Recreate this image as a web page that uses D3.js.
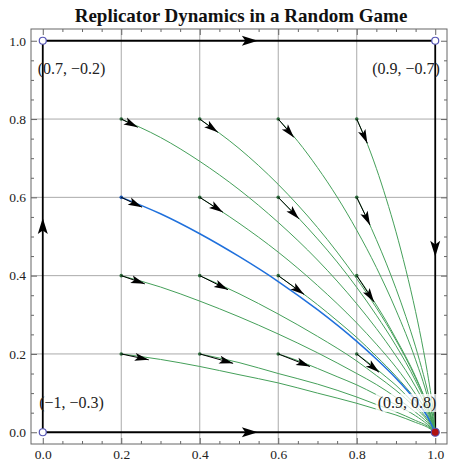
<!DOCTYPE html>
<html>
<head>
<meta charset="utf-8">
<script src="https://d3js.org/d3.v7.min.js"></script>
<style>
  body { margin: 0; background: #fff; }
  svg { display: block; }
  text { font-family: "Liberation Serif", "DejaVu Serif", serif; fill: #222; }
</style>
</head>
<body>
<svg width="454" height="466"></svg>
<script>
  const title = "Replicator Dynamics in a Random Game";
  const majorTicks = [0, 0.2, 0.4, 0.6, 0.8, 1];
  const gridValues = [0.2, 0.4, 0.6, 0.8];

  // corners of the square and the payoff pair shown next to each
  const corners = [[0, 0], [0, 1], [1, 1], [1, 0]];
  const cornerLabels = ["(\u22121, \u22120.3)", "(0.7, \u22120.2)", "(0.9, \u22120.7)", "(0.9, 0.8)"];
  const stableCorner = [1, 0];

  // boundary trajectories and where their arrows point
  const edges = [[[0, 0], [1, 0]], [[0, 1], [1, 1]], [[0, 0], [0, 1]], [[1, 1], [1, 0]]];
  const edgeArrowTips = [[0.548, 0], [0.548, 1], [0, 0.547], [1, 0.448]];

  // interior trajectories
  const greenCurves = [
    [[0.2,0.8],[0.3,0.753],[0.4,0.692],[0.5,0.620],[0.6,0.536],[0.7,0.440],[0.8,0.328],[0.85,0.265],[0.9,0.195],[0.95,0.116],[0.98,0.056],[1,0]],
    [[0.4,0.8],[0.5,0.725],[0.6,0.633],[0.7,0.523],[0.8,0.392],[0.85,0.318],[0.9,0.235],[0.95,0.139],[0.98,0.068],[1,0]],
    [[0.6,0.8],[0.65,0.743],[0.7,0.676],[0.75,0.601],[0.8,0.516],[0.85,0.421],[0.9,0.312],[0.95,0.185],[0.98,0.092],[0.99,0.053],[1,0]],
    [[0.8,0.8],[0.82,0.754],[0.85,0.674],[0.875,0.597],[0.9,0.512],[0.925,0.416],[0.95,0.308],[0.97,0.209],[0.98,0.153],[0.99,0.090],[0.995,0.052],[1,0]],
    [[0.4,0.6],[0.5,0.534],[0.6,0.460],[0.7,0.375],[0.8,0.279],[0.85,0.225],[0.9,0.166],[0.95,0.097],[0.98,0.048],[1,0]],
    [[0.6,0.6],[0.65,0.549],[0.7,0.494],[0.75,0.435],[0.8,0.370],[0.85,0.299],[0.9,0.221],[0.95,0.131],[0.98,0.064],[1,0]],
    [[0.8,0.6],[0.825,0.548],[0.85,0.492],[0.875,0.432],[0.9,0.367],[0.925,0.296],[0.95,0.218],[0.97,0.147],[0.98,0.108],[0.99,0.063],[1,0]],
    [[0.2,0.4],[0.3,0.371],[0.4,0.335],[0.5,0.295],[0.6,0.251],[0.7,0.203],[0.8,0.150],[0.85,0.122],[0.9,0.089],[0.95,0.051],[0.98,0.025],[1,0]],
    [[0.4,0.4],[0.5,0.354],[0.6,0.302],[0.7,0.245],[0.8,0.182],[0.85,0.145],[0.9,0.107],[0.95,0.062],[0.98,0.030],[1,0]],
    [[0.6,0.4],[0.65,0.364],[0.7,0.326],[0.75,0.285],[0.8,0.242],[0.85,0.194],[0.9,0.143],[0.95,0.084],[0.98,0.042],[1,0]],
    [[0.8,0.4],[0.825,0.364],[0.85,0.325],[0.875,0.284],[0.9,0.239],[0.925,0.193],[0.95,0.142],[0.97,0.095],[0.98,0.069],[0.99,0.041],[1,0]],
    [[0.2,0.2],[0.3,0.186],[0.4,0.168],[0.5,0.147],[0.6,0.126],[0.7,0.100],[0.8,0.074],[0.85,0.059],[0.9,0.044],[0.95,0.025],[0.98,0.013],[1,0]],
    [[0.4,0.2],[0.5,0.178],[0.6,0.150],[0.7,0.123],[0.8,0.090],[0.85,0.071],[0.9,0.052],[0.95,0.030],[0.98,0.016],[1,0]],
    [[0.6,0.2],[0.65,0.183],[0.7,0.163],[0.75,0.142],[0.8,0.121],[0.85,0.096],[0.9,0.070],[0.95,0.042],[0.98,0.020],[1,0]],
    [[0.8,0.2],[0.85,0.162],[0.875,0.141],[0.9,0.120],[0.925,0.095],[0.95,0.069],[0.98,0.034],[0.99,0.020],[1,0]]
  ];
  const blueCurve = [[0.2,0.6],[0.3,0.558],[0.4,0.507],[0.5,0.449],[0.6,0.385],[0.7,0.313],[0.8,0.232],[0.85,0.187],[0.9,0.138],[0.95,0.081],[0.98,0.040],[1,0]];

  // start points and arrow tips of the short direction arrows
  const arrowStarts = [
    [0.2,0.8],[0.4,0.8],[0.6,0.8],[0.8,0.8],
    [0.2,0.6],[0.4,0.6],[0.6,0.6],[0.8,0.6],
    [0.2,0.4],[0.4,0.4],[0.6,0.4],[0.8,0.4],
    [0.2,0.2],[0.4,0.2],[0.6,0.2],[0.8,0.2]
  ];
  const arrowTips = [
    [0.242,0.779],[0.446,0.766],[0.640,0.753],[0.827,0.738],
    [0.253,0.575],[0.459,0.562],[0.653,0.545],[0.834,0.529],
    [0.260,0.379],[0.472,0.364],[0.666,0.352],[0.844,0.333],
    [0.270,0.185],[0.485,0.176],[0.681,0.168],[0.857,0.153]
  ];

  const svg = d3.select("svg");
  const x = d3.scaleLinear().domain([-0.03, 1.03]).range([31, 447]);
  const y = d3.scaleLinear().domain([-0.03, 1.03]).range([444, 29]);
  const minorTicks = d3.range(0, 21).map(i => i / 20).filter(v => majorTicks.indexOf(v) < 0);

  svg.append("text")
    .attr("x", 241).attr("y", 22)
    .attr("text-anchor", "middle")
    .style("font-weight", "bold")
    .style("font-size", "19px")
    .style("fill", "#111")
    .text(title);

  // grid
  const grid = svg.append("g").attr("stroke", "#aaa").attr("stroke-width", 1);
  grid.selectAll("line.v").data(gridValues).join("line").attr("class", "v")
    .attr("x1", d => x(d)).attr("x2", d => x(d)).attr("y1", y(-0.03)).attr("y2", y(1.03));
  grid.selectAll("line.h").data(gridValues).join("line").attr("class", "h")
    .attr("y1", d => y(d)).attr("y2", d => y(d)).attr("x1", x(-0.03)).attr("x2", x(1.03));

  // frame axes, ticks pointing inwards
  function frameAxis(axis, transform, labels) {
    const g = svg.append("g").attr("transform", transform);
    g.call(axis.tickValues(minorTicks).tickSize(-3).tickFormat(""));
    g.select(".domain").remove();
    const g2 = svg.append("g").attr("transform", transform);
    g2.call(axis.tickValues(majorTicks).tickSize(-6).tickPadding(5)
      .tickFormat(labels ? d3.format(".1f") : ""));
    g2.select(".domain").remove();
    [g, g2].forEach(s => s.selectAll("line").attr("stroke", "#666"));
    g2.selectAll("text").style("font-size", "13.5px").style("font-family", "Liberation Serif").attr("fill", "#222");
  }
  frameAxis(d3.axisBottom(x), "translate(0,444)", true);
  frameAxis(d3.axisLeft(y), "translate(31,0)", true);
  frameAxis(d3.axisTop(x), "translate(0,29)", false);
  frameAxis(d3.axisRight(y), "translate(447,0)", false);

  svg.append("rect")
    .attr("x", x(-0.03)).attr("y", y(1.03))
    .attr("width", x(1.03) - x(-0.03)).attr("height", y(-0.03) - y(1.03))
    .attr("fill", "none").attr("stroke", "#666").attr("stroke-width", 1);

  function arrowHead(g, from, to, len, half) {
    const ang = Math.atan2(y(to[1]) - y(from[1]), x(to[0]) - x(from[0])) * 180 / Math.PI;
    g.append("path")
      .attr("d", "M0,0L" + (-len) + "," + (-half) + "L" + (-len * 0.78) + ",0L" + (-len) + "," + half + "Z")
      .attr("transform", "translate(" + x(to[0]) + "," + y(to[1]) + ") rotate(" + ang + ")")
      .attr("fill", "#000");
  }

  // boundary trajectories
  const edgeG = svg.append("g");
  edgeG.selectAll("line").data(edges).join("line")
    .attr("x1", d => x(d[0][0])).attr("y1", d => y(d[0][1]))
    .attr("x2", d => x(d[1][0])).attr("y2", d => y(d[1][1]))
    .attr("stroke", "#000").attr("stroke-width", 1.8);
  edges.forEach((e, i) => arrowHead(edgeG, e[0], edgeArrowTips[i], 16, 5));

  // interior trajectories
  const line = d3.line().x(d => x(d[0])).y(d => y(d[1])).curve(d3.curveMonotoneX);
  svg.append("g").selectAll("path").data(greenCurves).join("path")
    .attr("d", line).attr("fill", "none").attr("stroke", "#45a05a").attr("stroke-width", 1);
  svg.append("path").datum(blueCurve)
    .attr("d", line).attr("fill", "none").attr("stroke", "#1f70dc").attr("stroke-width", 1.5);

  // start dots
  svg.append("g").selectAll("circle").data(arrowStarts).join("circle")
    .attr("cx", d => x(d[0])).attr("cy", d => y(d[1])).attr("r", 1.8)
    .attr("fill", (d, i) => i === 4 ? "#1a55b0" : "#2d6b3c");

  // direction arrows
  const arrG = svg.append("g");
  arrowStarts.forEach((s, i) => {
    const t = arrowTips[i];
    arrG.append("line")
      .attr("x1", x(s[0])).attr("y1", y(s[1])).attr("x2", x(t[0])).attr("y2", y(t[1]))
      .attr("stroke", "#000").attr("stroke-width", 1);
    arrowHead(arrG, s, t, 14, 4);
  });

  // corner points
  svg.append("g").selectAll("circle").data(corners).join("circle")
    .attr("cx", d => x(d[0])).attr("cy", d => y(d[1]))
    .attr("r", d => d === corners[3] ? 4 : 3.5)
    .attr("fill", d => (d[0] === stableCorner[0] && d[1] === stableCorner[1]) ? "#b01010" : "#fff")
    .attr("stroke", "#5555b5").attr("stroke-width", 1.2);

  // corner payoff labels
  const labelPos = [[71.5, 408], [71.5, 74], [406, 74], [407, 408]];
  const lab = svg.append("g");
  cornerLabels.forEach((t, i) => {
    const tx = lab.append("text")
      .attr("x", labelPos[i][0]).attr("y", labelPos[i][1])
      .attr("text-anchor", "middle")
      .style("font-size", "16px")
      .text(t);
    if (i === 3) {
      const b = tx.node().getBBox();
      lab.insert("rect", "text")
        .attr("x", b.x - 2).attr("y", b.y).attr("width", b.width + 4).attr("height", b.height)
        .attr("fill", "#fff").attr("fill-opacity", 0.75);
    }
  });
</script>
</body>
</html>
